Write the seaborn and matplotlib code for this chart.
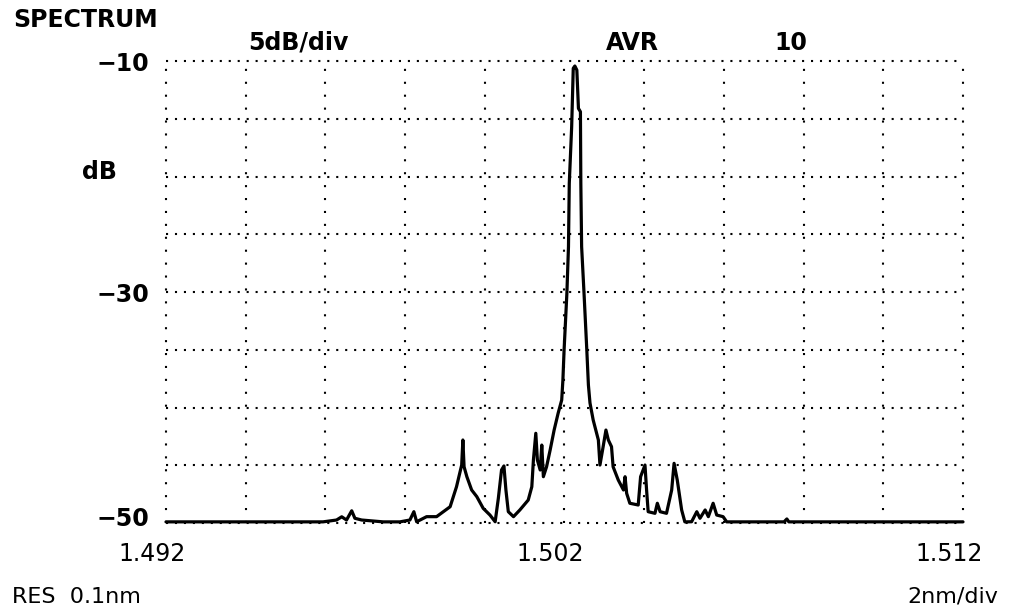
import matplotlib
matplotlib.use("Agg")
import matplotlib.pyplot as plt
import matplotlib.transforms as mtransforms
import seaborn as sns
import pandas as pd

# Optical spectrum trace: wavelength (um) and power (dB)
wavelength = [
    1.49200, 1.49594, 1.49628, 1.49641, 1.49653, 1.49666, 1.49674, 1.49691,
    1.49745, 1.49787, 1.49812, 1.49822, 1.49829, 1.49854, 1.49879, 1.49896,
    1.49913, 1.49929, 1.49942, 1.49945, 1.49948, 1.49955, 1.49967, 1.49980,
    1.49996, 1.50013, 1.50026, 1.50034, 1.50042, 1.50048, 1.50053, 1.50059,
    1.50072, 1.50088, 1.50109, 1.50118, 1.50122, 1.50128, 1.50132, 1.50139,
    1.50143, 1.50147, 1.50155, 1.50164, 1.50174, 1.50184, 1.50193, 1.50196,
    1.50199, 1.50206, 1.50210, 1.50212, 1.50218, 1.50222, 1.50226, 1.50231,
    1.50235, 1.50240, 1.50241, 1.50243, 1.50249, 1.50256, 1.50260, 1.50264,
    1.50272, 1.50285, 1.50289, 1.50297, 1.50304, 1.50310, 1.50318, 1.50322,
    1.50335, 1.50348, 1.50352, 1.50356, 1.50364, 1.50385, 1.50391, 1.50402,
    1.50406, 1.50410, 1.50427, 1.50433, 1.50440, 1.50456, 1.50469, 1.50475,
    1.50483, 1.50494, 1.50502, 1.50519, 1.50532, 1.50540, 1.50553, 1.50561,
    1.50573, 1.50582, 1.50598, 1.50607, 1.50751, 1.50758, 1.50763, 1.51200,
]
power_db = [
    -49.9, -49.9, -49.74, -49.46, -49.74, -48.94, -49.59, -49.74,
    -49.9, -49.9, -49.74, -49.02, -49.89, -49.45, -49.45, -49.02,
    -48.59, -46.86, -44.98, -42.81, -45.13, -45.99, -47.14, -47.72,
    -48.73, -49.31, -49.89, -47.86, -45.41, -45.06, -47.14, -49.02,
    -49.45, -48.87, -48.01, -46.86, -44.55, -42.23, -44.55, -45.41,
    -43.25, -45.99, -45.13, -43.68, -41.95, -40.50, -39.35, -37.62,
    -35.02, -30.11, -26.08, -20.59, -15.69, -10.63, -10.43, -10.78,
    -14.10, -14.39, -20.59, -26.08, -30.09, -35.02, -38.05, -39.61,
    -41.08, -42.81, -44.98, -43.39, -41.95, -42.81, -43.39, -45.13,
    -46.28, -47.14, -45.99, -47.43, -48.29, -48.44, -45.99, -44.98,
    -47.14, -49.02, -49.16, -48.29, -49.02, -49.16, -47.14, -44.83,
    -46.28, -48.87, -49.9, -49.89, -49.02, -49.59, -48.87, -49.45,
    -48.29, -49.31, -49.45, -49.9, -49.9, -49.65, -49.9, -49.9,
]

# Axis divisions and labels
x_divisions = [1.492 + 0.002 * i for i in range(11)]
x_tick_labels = ["1.492", "", "", "", "", "1.502", "", "", "", "", "1.512"]
y_divisions = [-10 - 5 * i for i in range(9)]
y_tick_labels = ["\u221210", "", "", "", "\u221230", "", "", "", "\u221250"]

sns.set_style("white")
plt.rcParams["font.family"] = ["DejaVu Sans"]
plt.rcParams["text.color"] = "black"
plt.rcParams["xtick.color"] = "black"
plt.rcParams["ytick.color"] = "black"

fig = plt.figure(figsize=(10.11, 6.11), dpi=100)
ax = fig.add_axes([0.1642, 0.1440, 0.7883, 0.7561])

df = pd.DataFrame({"wavelength": wavelength, "power": power_db})
sns.lineplot(data=df, x="wavelength", y="power", sort=False, estimator=None,
             color="black", linewidth=2.3, ax=ax, clip_on=False, zorder=3)

ax.set_xlim(1.492, 1.512)
ax.set_ylim(-50, -10)
ax.set_xticks(x_divisions)
ax.set_xticklabels(x_tick_labels)
ax.set_yticks(y_divisions)
ax.set_yticklabels(y_tick_labels)
ax.set_xlabel("")
ax.set_ylabel("")
for side in ax.spines.values():
    side.set_visible(False)

# Dotted graticule
ax.xaxis.grid(True, color="black", linewidth=1.5, linestyle=(0, (1, 5.2)))
ax.yaxis.grid(True, color="black", linewidth=1.5, linestyle=(0, (1, 3.3)))
for gl in ax.get_xgridlines() + ax.get_ygridlines():
    gl.set_clip_on(False)

ax.tick_params(axis="both", length=0, colors="black")
ax.tick_params(axis="x", pad=14, labelsize=17)
ax.tick_params(axis="y", pad=12, labelsize=17)
for lbl in ax.get_yticklabels():
    lbl.set_fontweight("bold")

shift_x = mtransforms.ScaledTranslation(-14 / 100, 0, fig.dpi_scale_trans)
for lbl in ax.get_xticklabels():
    lbl.set_transform(lbl.get_transform() + shift_x)
shift_y = mtransforms.ScaledTranslation(0, 7 / 100, fig.dpi_scale_trans)
ax.get_yticklabels()[-1].set_transform(ax.get_yticklabels()[-1].get_transform() + shift_y)

# Instrument annotations
bold = dict(fontsize=17, fontweight="bold", va="center", color="black")
fig.text(0.0129, 0.967, "SPECTRUM", ha="left", **bold)
fig.text(0.245, 0.930, "5dB/div", ha="left", **bold)
fig.text(0.599, 0.930, "AVR", ha="left", **bold)
fig.text(0.766, 0.930, "10", ha="left", **bold)
fig.text(0.081, 0.7185, "dB", ha="left", **bold)
fig.text(0.0119, 0.023, "RES  0.1nm", ha="left", va="center", fontsize=16, color="black")
fig.text(0.987, 0.023, "2nm/div", ha="right", va="center", fontsize=16, color="black")

fig.savefig("out.png", dpi=100, facecolor="white")
